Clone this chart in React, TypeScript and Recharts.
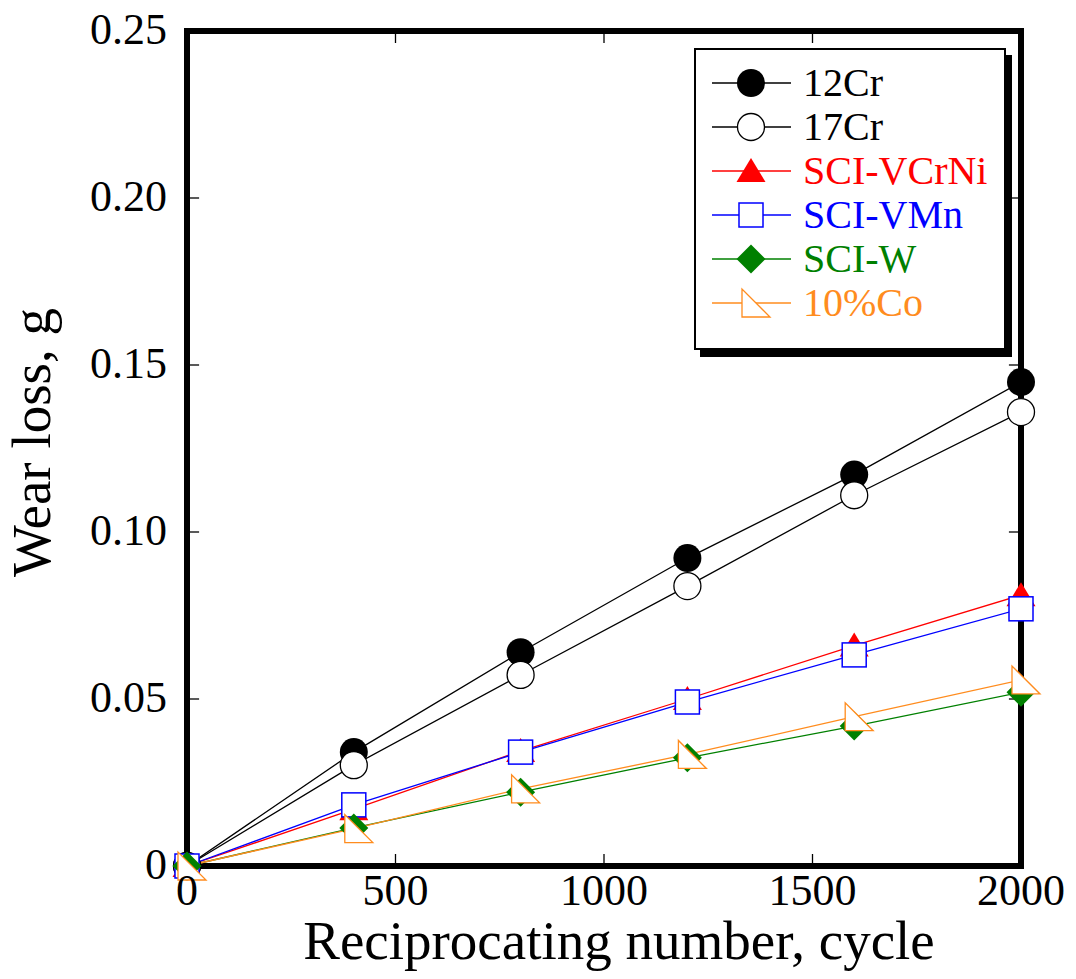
import React from 'react';
import { LineChart, Line, XAxis, YAxis, ReferenceArea, ReferenceLine, Legend } from 'recharts';

const cycles = [0, 400, 800, 1200, 1600, 2000];
const cr12 = [0, 0.0341, 0.064, 0.0922, 0.1172, 0.1449];
const cr17 = [0, 0.0302, 0.0572, 0.0838, 0.111, 0.1359];
const vcrni = [0, 0.017, 0.0344, 0.05, 0.066, 0.0811];
const vmn = [0, 0.0183, 0.0341, 0.0491, 0.0632, 0.077];
const sciW = [0, 0.0114, 0.0221, 0.0324, 0.0419, 0.052];
const co10 = [0, 0.0112, 0.0231, 0.0334, 0.0447, 0.0557];

const xTicks = [0, 500, 1000, 1500, 2000];
const yTicks = [0, 0.05, 0.1, 0.15, 0.2, 0.25];

const FONT = "'Liberation Serif', 'Times New Roman', serif";

type Kind = 'disc' | 'circle' | 'tri' | 'square' | 'diamond' | 'rtri';

const seriesList: { key: string; name: string; color: string; kind: Kind; values: number[] }[] = [
    { key: 'cr12', name: '12Cr', color: '#000000', kind: 'disc', values: cr12 },
    { key: 'cr17', name: '17Cr', color: '#000000', kind: 'circle', values: cr17 },
    { key: 'vcrni', name: 'SCI-VCrNi', color: '#ff0000', kind: 'tri', values: vcrni },
    { key: 'vmn', name: 'SCI-VMn', color: '#0000ff', kind: 'square', values: vmn },
    { key: 'w', name: 'SCI-W', color: '#008000', kind: 'diamond', values: sciW },
    { key: 'co', name: '10%Co', color: '#ff8c1e', kind: 'rtri', values: co10 },
];

const data = cycles.map((c, i) => {
    const row: Record<string, number> = { cycle: c };
    seriesList.forEach((s) => { row[s.key] = s.values[i]; });
    return row;
});

function Marker({ cx, cy, kind, color }: { cx: number; cy: number; kind: Kind; color: string }) {
    switch (kind) {
        case 'disc':
            return <circle cx={cx} cy={cy} r={14} fill={color} />;
        case 'circle':
            return <circle cx={cx} cy={cy} r={13.5} fill="#fff" stroke={color} strokeWidth={1.3} />;
        case 'tri':
            return <polygon points={`${cx},${cy - 13} ${cx - 14.5},${cy + 11} ${cx + 14.5},${cy + 11}`} fill={color} />;
        case 'square':
            return <rect x={cx - 12} y={cy - 12} width={24} height={24} fill="#fff" stroke={color} strokeWidth={1.5} />;
        case 'diamond':
            return <polygon points={`${cx},${cy - 14.5} ${cx + 14.5},${cy} ${cx},${cy + 14.5} ${cx - 14.5},${cy}`} fill={color} />;
        case 'rtri':
            return <polygon points={`${cx - 9},${cy - 14} ${cx - 9},${cy + 14} ${cx + 19},${cy + 14}`} fill="#fff" stroke={color} strokeWidth={1.3} />;
    }
}

const renderDot = (kind: Kind, color: string) => (p: any) => (
    <Marker key={`${kind}-${p.index}`} cx={p.cx} cy={p.cy} kind={kind} color={color} />
);

function LegendBox() {
    return (
        <div
            style={{
                position: 'absolute',
                left: 694,
                top: 48,
                width: 308,
                height: 287,
                border: '2px solid #000',
                boxShadow: '6px 7px 0 #000',
                background: '#fff',
                paddingTop: 11,
                boxSizing: 'content-box',
                fontFamily: FONT,
            }}
        >
            {seriesList.map((s) => (
                <div key={s.key} style={{ display: 'flex', alignItems: 'center', height: 44 }}>
                    <svg width={84} height={44} style={{ marginLeft: 16, overflow: 'visible' }}>
                        <line x1={0} y1={22} x2={79} y2={22} stroke={s.color} strokeWidth={1.3} />
                        <Marker cx={39} cy={22} kind={s.kind} color={s.color} />
                    </svg>
                    <span style={{ marginLeft: 7, fontSize: 40, lineHeight: '44px', color: s.color, fontFamily: FONT }}>{s.name}</span>
                </div>
            ))}
        </div>
    );
}

// x tick label: digits under the tick, serif
const XTick = (p: any) => (
    <text x={p.x} y={p.y + 31} textAnchor="middle" fontSize={44} fill="#000" style={{ fontFamily: FONT }}>
        {p.payload.value}
    </text>
);

const YTick = (p: any) => (
    <text x={p.x} y={p.y + 13} textAnchor="end" fontSize={44} fill="#000" style={{ fontFamily: FONT }}>
        {p.payload.value === 0 ? '0' : Number(p.payload.value).toFixed(2)}
    </text>
);

const tickLenY = 0.0036;
const tickLenX = 29;

export default function App() {
    return (
        <div style={{ position: 'absolute', left: 0, top: 0, width: 1076, height: 979, background: '#fff' }}>
            <LineChart
                width={1076}
                height={979}
                data={data}
                margin={{ top: 31, right: 55, bottom: 63, left: 87 }}
            >
                <ReferenceArea x1={0} x2={2000} y1={0} y2={0.25} fill="none" stroke="#000" strokeWidth={6} fillOpacity={0} />
                {xTicks.map((t) => (
                    <ReferenceLine key={`xb${t}`} segment={[{ x: t, y: 0 }, { x: t, y: tickLenY }]} stroke="#000" strokeWidth={1.3} />
                ))}
                {xTicks.map((t) => (
                    <ReferenceLine key={`xt${t}`} segment={[{ x: t, y: 0.25 }, { x: t, y: 0.25 - tickLenY }]} stroke="#000" strokeWidth={1.3} />
                ))}
                {yTicks.map((t) => (
                    <ReferenceLine key={`yl${t}`} segment={[{ x: 0, y: t }, { x: tickLenX, y: t }]} stroke="#000" strokeWidth={1.3} />
                ))}
                {yTicks.map((t) => (
                    <ReferenceLine key={`yr${t}`} segment={[{ x: 2000, y: t }, { x: 2000 - tickLenX, y: t }]} stroke="#000" strokeWidth={1.3} />
                ))}
                <XAxis
                    dataKey="cycle"
                    type="number"
                    domain={[0, 2000]}
                    ticks={xTicks}
                    axisLine={false}
                    tickLine={false}
                    tickSize={0}
                    tickMargin={8}
                    height={50}
                    tick={<XTick />}
                    label={(props: any) => {
                        const vb = props.viewBox;
                        return (
                            <text x={vb.x + vb.width / 2 + 15} y={959} textAnchor="middle" fontSize={55} fill="#000" style={{ fontFamily: FONT }}>
                                Reciprocating number, cycle
                            </text>
                        );
                    }}
                />
                <YAxis
                    type="number"
                    domain={[0, 0.25]}
                    ticks={yTicks}
                    axisLine={false}
                    tickLine={false}
                    tickSize={0}
                    tickMargin={20}
                    width={100}
                    tick={<YTick />}
                    label={(props: any) => {
                        const vb = props.viewBox;
                        const cy = vb.y + vb.height / 2 - 6;
                        return (
                            <text x={50} y={cy} transform={`rotate(-90 50 ${cy})`} textAnchor="middle" fontSize={55} fill="#000" style={{ fontFamily: FONT }}>
                                Wear loss, g
                            </text>
                        );
                    }}
                />
                {seriesList.map((s) => (
                    <Line
                        key={s.key}
                        dataKey={s.key}
                        name={s.name}
                        stroke={s.color}
                        strokeWidth={1.3}
                        dot={renderDot(s.kind, s.color)}
                        activeDot={false}
                        isAnimationActive={false}
                    />
                ))}
                <Legend content={() => <LegendBox />} wrapperStyle={{ position: 'absolute', left: 0, top: 0, width: 0, height: 0 }} />
            </LineChart>
        </div>
    );
}
